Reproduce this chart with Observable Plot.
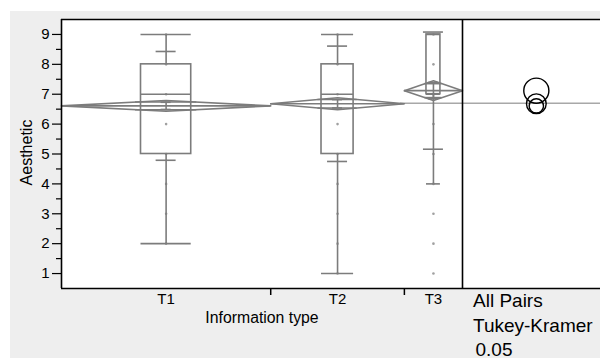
<!DOCTYPE html>
<html><head><meta charset="utf-8">
<script src="https://cdn.jsdelivr.net/npm/d3@7"></script>
<script src="https://cdn.jsdelivr.net/npm/@observablehq/plot@0.6"></script>
<style>
body{margin:0;background:#fff;}
#wrap{position:relative;width:600px;height:358px;overflow:hidden;}
#bg{position:absolute;left:10px;top:11px;right:0;bottom:0;background:#eeeeee;}
#chart{position:absolute;left:0;top:0;}
</style></head><body>
<div id="wrap"><div id="bg"></div><div id="chart"></div></div>
<script>
// ---- data ----
const groups = ["T1", "T2", "T3"];
const counts = [180, 115, 50];            // relative group sizes (category widths)
const means = [6.61, 6.68, 7.12];
const stdDevs = [1.82, 1.93, 1.96];
const diamondHalf = [0.18, 0.20, 0.33];   // 95% CI half-width of means diamonds
const meanErrHalf = [0.12, 0.14, 0.27];
const q1 = [5, 5, 7];
const medians = [7, 7, 7];
const q3 = [8, 8, 9];
const whiskerLo = [2, 1, 4];
const whiskerHi = [9, 9, 9];
const pointValues = [
  [2, 3, 4, 5, 6, 7, 8, 9],
  [1, 2, 3, 4, 5, 6, 7, 8, 9],
  [1, 2, 3, 4, 5, 6, 7, 8, 9]
];
const circleRadii = [0.24, 0.33, 0.42];   // comparison circle radii, in Aesthetic units
const grandMean = 6.70;
const yTicks = [1, 2, 3, 4, 5, 6, 7, 8, 9];
const yMinorTicks = [1.5, 2.5, 3.5, 4.5, 5.5, 6.5, 7.5, 8.5];
const yDomain = [0.5, 9.5];
const xLabel = "Information type";
const yLabel = "Aesthetic";
const compLines = ["All Pairs", "Tukey-Kramer", "0.05"];

// ---- layout ----
const W = 600, H = 358, mL = 61, mT = 19, mB = 70, mR = 0;
const xSplit = 462;                       // pixel where the comparison-circle panel begins
const total = d3.sum(counts);
const pxPerX = (xSplit - mL) / total;
const xRight = (W - mR - mL) / pxPerX;    // domain value at right edge of frame
const pxPerY = (H - mT - mB) / (yDomain[1] - yDomain[0]);
const starts = d3.cumsum([0, ...counts]).slice(0, 3);
const G = groups.map((g, i) => {
  const x0 = starts[i], w = counts[i], c = x0 + w / 2, bw = w * 0.24;
  return {g, i, x0, x1: x0 + w, c, w, bx1: c - bw / 2, bx2: c + bw / 2,
    mean: means[i], sd: stdDevs[i], ci: diamondHalf[i], se: meanErrHalf[i],
    q1: q1[i], med: medians[i], q3: q3[i], lo: whiskerLo[i], hi: whiskerHi[i], r: circleRadii[i]};
});
const boundaries = G.slice(1).map(d => d.x0);
const sdHalf = 10 / pxPerX, capHalf = 5 / pxPerX;
const circleX = total + 0.535 * (xRight - total);

const diamondPts = G.flatMap(d => [
  {g: d.g, x: d.x0, y: d.mean}, {g: d.g, x: d.c, y: d.mean + d.ci},
  {g: d.g, x: d.x1, y: d.mean}, {g: d.g, x: d.c, y: d.mean - d.ci},
  {g: d.g, x: d.x0, y: d.mean}
]);
const k = 1 / Math.SQRT2;
const overlap = G.flatMap(d => [1, -1].map(s => ({
  y: d.mean + s * d.ci * k, x1: d.c - (d.w / 2) * (1 - k), x2: d.c + (d.w / 2) * (1 - k)})));
const sdLines = G.flatMap(d => [d.mean - d.sd, d.mean + d.sd].map(y => ({y, x1: d.c - sdHalf, x2: d.c + sdHalf})));
const caps = G.flatMap(d => [d.lo, d.hi].map(y => ({y, x1: d.bx1, x2: d.bx2})));
const errCaps = G.flatMap(d => [d.mean - d.se, d.mean + d.se].map(y => ({y, x1: d.c - capHalf, x2: d.c + capHalf})));
const points = G.flatMap(d => pointValues[d.i].map(v => ({x: d.c, y: v})));

const gray = "#7c7c7c", sw = 1.6;
const font = "Liberation Sans, Arial, Helvetica, sans-serif";
const compDx = [472.5, 472.5, 475].map(v => v - mL);
const compDy = [18.7, 43, 67];

const plot = Plot.plot({
  width: W, height: H, marginLeft: mL, marginTop: mT, marginBottom: mB, marginRight: mR,
  style: {fontFamily: font, background: "transparent", overflow: "visible", color: "black"},
  x: {type: "linear", domain: [0, total], range: [mL, xSplit], axis: null},
  y: {domain: yDomain, axis: null},
  r: {type: "linear", domain: [0, 1], range: [0, pxPerY]},
  marks: [
    Plot.frame({fill: "white", stroke: null}),
    // grand mean reference line
    Plot.ruleY([grandMean], {x1: starts[2] - 4 / pxPerX, x2: xRight, stroke: "#a8a8a8", strokeWidth: 1.6}),
    // points
    Plot.dot(points, {x: "x", y: "y", r: 1.3, fill: "#a0a0a0", stroke: null}),
    // box plots
    Plot.rect(G, {x1: "bx1", x2: "bx2", y1: "q1", y2: "q3", fill: "none", stroke: gray, strokeWidth: sw}),
    Plot.ruleY(G, {y: "med", x1: "bx1", x2: "bx2", stroke: gray, strokeWidth: sw}),
    Plot.ruleX(G, {x: "c", y1: "q3", y2: "hi", stroke: gray, strokeWidth: sw}),
    Plot.ruleX(G, {x: "c", y1: "lo", y2: "q1", stroke: gray, strokeWidth: sw}),
    Plot.ruleY(caps, {y: "y", x1: "x1", x2: "x2", stroke: gray, strokeWidth: sw}),
    // std dev lines
    Plot.ruleY(sdLines, {y: "y", x1: "x1", x2: "x2", stroke: gray, strokeWidth: sw}),
    // means diamonds
    Plot.line(diamondPts, {x: "x", y: "y", z: "g", stroke: gray, strokeWidth: sw, curve: "linear"}),
    Plot.ruleY(G, {y: "mean", x1: "x0", x2: "x1", stroke: gray, strokeWidth: sw}),
    Plot.ruleY(overlap, {y: "y", x1: "x1", x2: "x2", stroke: gray, strokeWidth: sw}),
    // mean error bars
    Plot.ruleX(G, {x: "c", y1: d => d.mean - d.se, y2: d => d.mean + d.se, stroke: gray, strokeWidth: sw}),
    Plot.ruleY(errCaps, {y: "y", x1: "x1", x2: "x2", stroke: gray, strokeWidth: sw}),
    // comparison circles
    Plot.dot(G, {x: () => circleX, y: "mean", r: "r", fill: "none", stroke: "black", strokeWidth: 1.4}),
    // borders
    Plot.ruleY([yDomain[1]], {stroke: "black", strokeWidth: 1.4}),
    Plot.ruleY([yDomain[0]], {stroke: "black", strokeWidth: 1.6}),
    Plot.ruleX([0], {stroke: "black", strokeWidth: 1.6}),
    Plot.ruleX([total], {stroke: "black", strokeWidth: 1.6}),
    // axis ticks
    Plot.axisY({ticks: yTicks, tickSize: 9, tickFormat: () => "", label: null, strokeWidth: 1.2}),
    Plot.axisY({ticks: yMinorTicks, tickSize: 5, tickFormat: () => "", label: null, strokeWidth: 1.2}),
    Plot.axisX({ticks: boundaries, tickSize: 7, tickFormat: () => "", label: null, strokeWidth: 1.5}),
    // tick labels
    Plot.text(yTicks, {y: d => d, frameAnchor: "left", dx: -12, textAnchor: "end", lineAnchor: "middle",
      text: d => String(d), fontSize: 15, fill: "black"}),
    Plot.text(G, {x: "c", frameAnchor: "bottom", dy: 4.6, textAnchor: "middle", lineAnchor: "top",
      text: "g", fontSize: 15, fill: "black"}),
    // axis titles
    Plot.text([xLabel], {x: () => total / 2, frameAnchor: "bottom", dy: 34.7, lineAnchor: "bottom",
      textAnchor: "middle", text: d => d, fontSize: 15.8, fill: "black"}),
    Plot.text([yLabel], {frameAnchor: "left", dx: -29.5, dy: -1.5, rotate: -90, lineAnchor: "bottom",
      textAnchor: "middle", text: d => d, fontSize: 16, fill: "black"}),
    // comparison method text
    ...compLines.map((t, i) =>
      Plot.text([t], {frameAnchor: "bottom-left", textAnchor: "start", lineAnchor: "bottom",
        dx: compDx[i], dy: compDy[i], text: d => d, fontSize: 19, fill: "black"}))
  ]
});
document.getElementById("chart").appendChild(plot);
</script>
</body></html>
